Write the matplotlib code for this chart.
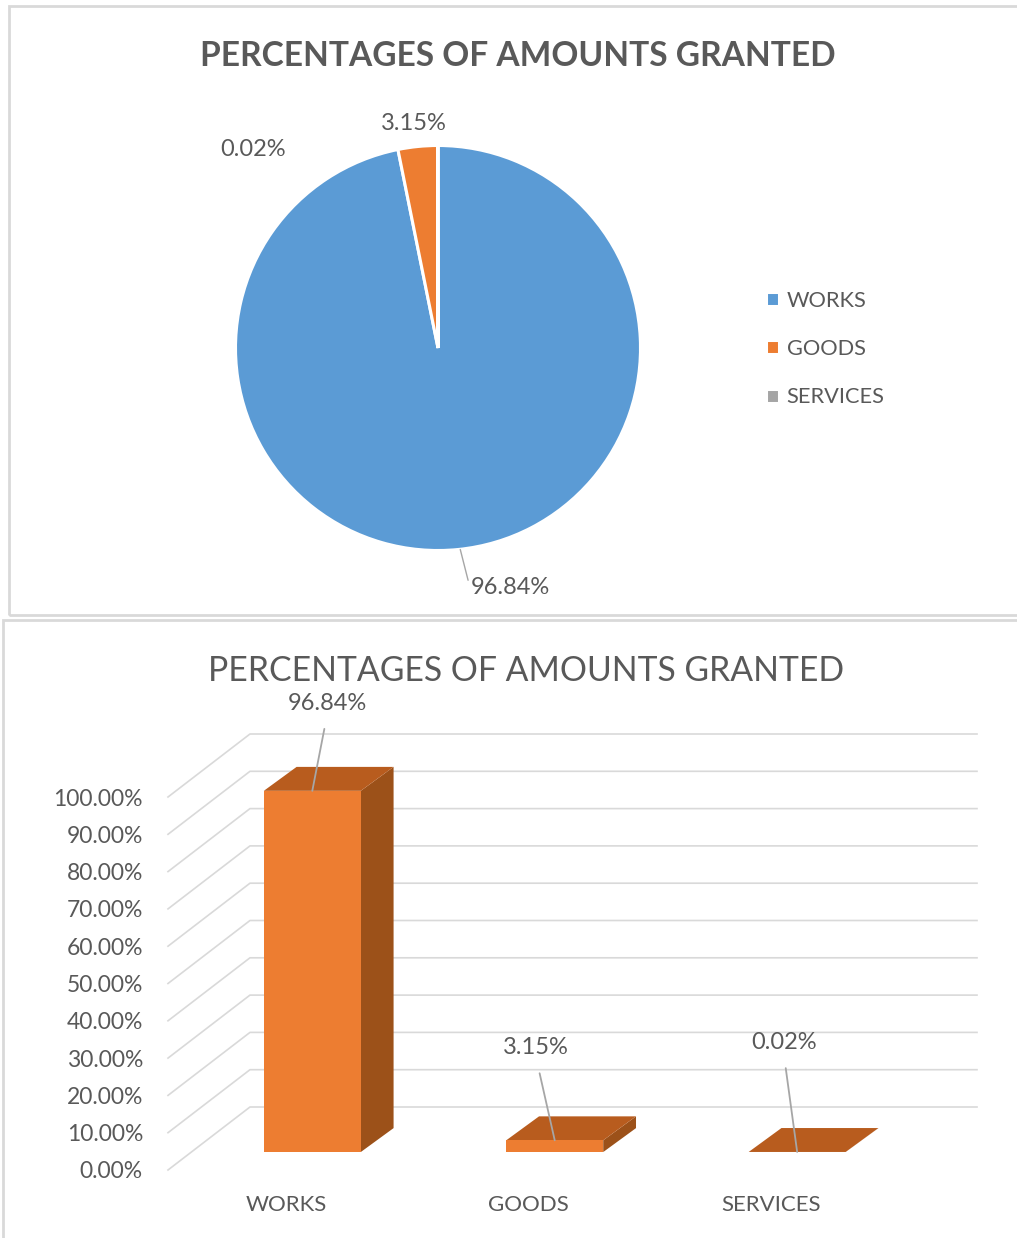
import matplotlib.pyplot as plt
from matplotlib.patches import Polygon, Rectangle

W, H = 1017, 1238

categories = ["WORKS", "GOODS", "SERVICES"]
shares = [96.84, 3.15, 0.02]
share_labels = ["96.84%", "3.15%", "0.02%"]
y_ticks = [0, 10, 20, 30, 40, 50, 60, 70, 80, 90, 100]
y_tick_labels = ["0.00%", "10.00%", "20.00%", "30.00%", "40.00%", "50.00%",
                 "60.00%", "70.00%", "80.00%", "90.00%", "100.00%"]
pie_colors = ["#5B9BD5", "#ED7D31", "#A5A5A5"]

TEXT = "#595959"
GRID = "#D9D9D9"
LEADER = "#A6A6A6"


def box(left, top, right, bottom):
    return [left / W, 1 - bottom / H, (right - left) / W, (bottom - top) / H]


plt.rcParams["font.family"] = ["Lato", "DejaVu Sans"]
fig = plt.figure(figsize=(W / 100, H / 100), dpi=100, facecolor="white")

# panel borders
fig.add_artist(Rectangle((9 / W, 1 - 615 / H), 1.1, 609 / H, transform=fig.transFigure,
                         fill=False, edgecolor=GRID, linewidth=2))
fig.add_artist(Rectangle((3 / W, 1 - 1.1), 1.1, 1.1 - 620 / H, transform=fig.transFigure,
                         fill=False, edgecolor=GRID, linewidth=2))

# pie
ax_pie = fig.add_axes(box(235.5, 145.5, 640.5, 550.5))
wedges, _ = ax_pie.pie(shares, colors=pie_colors, startangle=90, counterclock=False, radius=1,
                       wedgeprops={"edgecolor": "white", "linewidth": 2.2})
ax_pie.set_xlim(-1, 1)
ax_pie.set_ylim(-1, 1)

fig.text(517.5 / W, 1 - 56 / H, "PERCENTAGES OF AMOUNTS GRANTED", ha="center", va="center",
         fontsize=24.15, fontweight="bold", color=TEXT)
fig.text(414 / W, 1 - 123 / H, share_labels[1], ha="center", va="center", fontsize=17, color=TEXT)
fig.text(253 / W, 1 - 150 / H, share_labels[2], ha="center", va="center", fontsize=17, color=TEXT)
ax_pie.annotate(share_labels[0], xy=(0.11, -0.995), xytext=(510.5 / W, 1 - 587 / H),
                textcoords="figure fraction", ha="center", va="center", fontsize=17, color=TEXT,
                arrowprops={"arrowstyle": "-", "color": LEADER, "linewidth": 1, "relpos": (0, 0.3),
                            "shrinkA": 0, "shrinkB": 0})

fig.legend(wedges, categories, loc="center left", bbox_to_anchor=(766 / W, 1 - 349 / H), frameon=False,
           fontsize=15.7, labelcolor=TEXT, handlelength=0.6, handleheight=0.6,
           handletextpad=0.35, labelspacing=1.3, borderpad=0, borderaxespad=0)

# 3d column chart, drawn on a 2d axes
ax_bar = fig.add_axes(box(168, 797, 977, 1170))
ax_bar.set_xlim(-0.487, 2.85)
ax_bar.set_ylim(0, 100)
for spine in ax_bar.spines.values():
    spine.set_visible(False)
ax_bar.set_yticks(y_ticks, y_tick_labels)
ax_bar.set_xticks(range(len(categories)), categories)
ax_bar.tick_params(axis="y", length=0, pad=18, labelsize=16.5, labelcolor=TEXT)
ax_bar.tick_params(axis="x", length=0, pad=18, labelsize=16, labelcolor=TEXT)
for label in ax_bar.get_yticklabels():
    label.set_verticalalignment("center_baseline")
ax_bar.patch.set_alpha(0)

x0, x1 = ax_bar.get_xlim()
wall_dx = 82 / 242.5
wall_dy = 63 / 3.73
for tick in y_ticks:
    ax_bar.plot([x0, x0 + wall_dx, x1], [tick, tick + wall_dy, tick + wall_dy], color=GRID,
                linewidth=1.2, clip_on=False, zorder=1)

bar_w = 0.4
front_x = 0.32 * wall_dx
front_y = 0.285 * wall_dy
depth_x = 0.40 * wall_dx
depth_y = 0.38 * wall_dy
for i, value in enumerate(shares):
    l = i + front_x - bar_w / 2
    r = l + bar_w
    b = front_y
    t = b + value
    ax_bar.add_patch(Polygon([(r, b), (r + depth_x, b + depth_y), (r + depth_x, t + depth_y), (r, t)],
                             facecolor="#9C5119", clip_on=False, zorder=2))
    ax_bar.add_patch(Polygon([(l, t), (r, t), (r + depth_x, t + depth_y), (l + depth_x, t + depth_y)],
                             facecolor="#B85C1E", clip_on=False, zorder=3))
    ax_bar.add_patch(Rectangle((l, b), bar_w, value, facecolor="#ED7D31", clip_on=False, zorder=3))

label_offsets = [(15, 77), (-18.5, 82), (-13.5, 99)]
for i, value in enumerate(shares):
    ox, oy = label_offsets[i]
    ax_bar.annotate(share_labels[i], xy=(i + front_x, front_y + value), xytext=(ox * 0.72, oy * 0.72),
                    textcoords="offset points", ha="center", va="bottom", fontsize=17, color=TEXT,
                    annotation_clip=False, zorder=5,
                    arrowprops={"arrowstyle": "-", "color": LEADER, "linewidth": 1.3, "relpos": (0.5, 0),
                                "shrinkA": 9, "shrinkB": 0})

fig.text(526 / W, 1 - 671 / H, "PERCENTAGES OF AMOUNTS GRANTED", ha="center", va="center",
         fontsize=24.3, color=TEXT)

fig.savefig("out.png", dpi=100)
